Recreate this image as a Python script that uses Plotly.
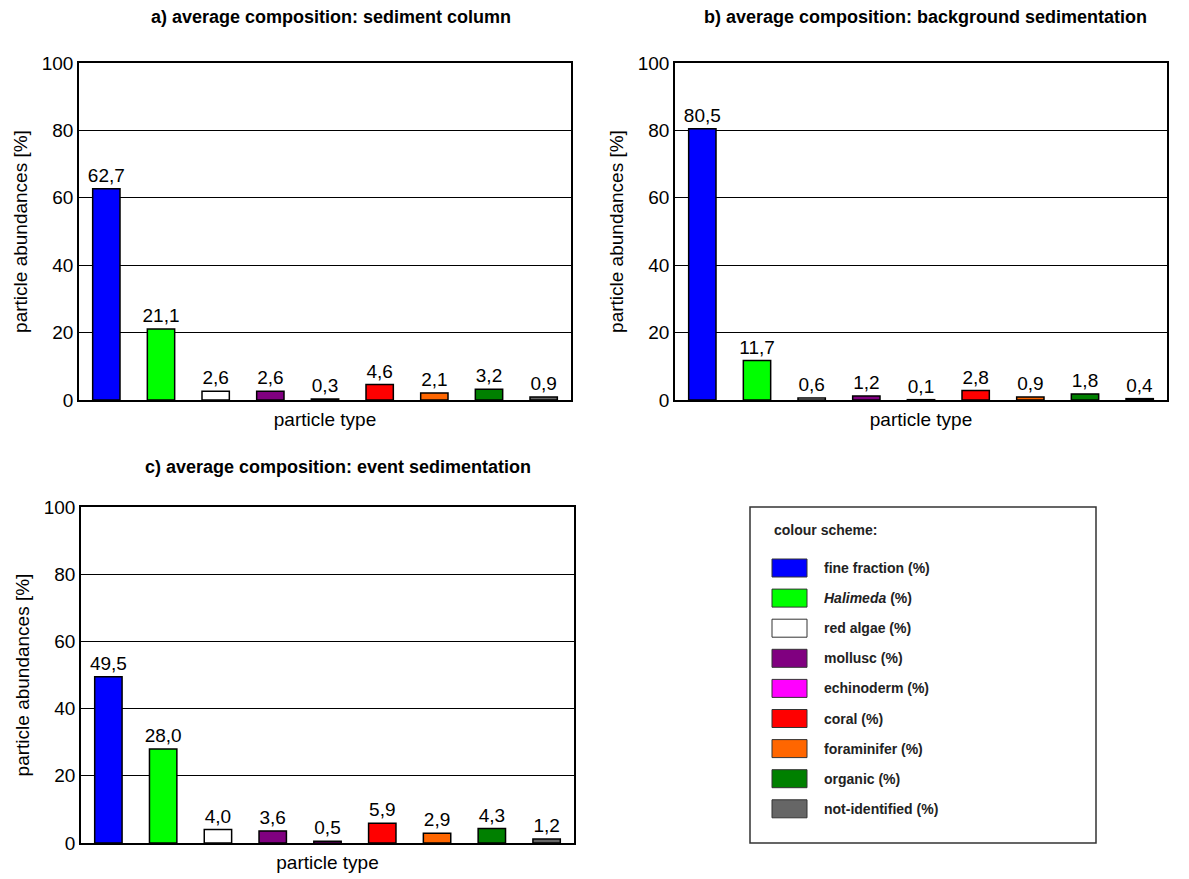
import plotly.graph_objects as go

W, H = 1189, 879

categories = ["fine fraction (%)", "Halimeda (%)", "red algae (%)", "mollusc (%)",
              "echinoderm (%)", "coral (%)", "foraminifer (%)", "organic (%)",
              "not-identified (%)"]
legend_labels = ["fine fraction (%)", "<i>Halimeda</i> (%)", "red algae (%)", "mollusc (%)",
                 "echinoderm (%)", "coral (%)", "foraminifer (%)", "organic (%)",
                 "not-identified (%)"]
colors = ["#0000FF", "#00FF00", "#FFFFFF", "#800080", "#FF00FF",
          "#FF0000", "#FF6600", "#008000", "#666666"]

sediment_column = [62.7, 21.1, 2.6, 2.6, 0.3, 4.6, 2.1, 3.2, 0.9]
background_sedimentation = [80.5, 11.7, 0.6, 1.2, 0.1, 2.8, 0.9, 1.8, 0.4]
event_sedimentation = [49.5, 28.0, 4.0, 3.6, 0.5, 5.9, 2.9, 4.3, 1.2]

panel_titles = ["a) average composition: sediment column",
                "b) average composition: background sedimentation",
                "c) average composition: event sedimentation"]
y_ticks = [0, 20, 40, 60, 80, 100]

FONT = "Liberation Sans, Arial, sans-serif"


def px_x(p):
    return p / W


def px_y(p):
    return 1 - p / H


# panel boxes in pixels: (left, right, top, bottom)
boxes = [(79, 571, 63, 400), (675, 1167, 63, 400), (81, 574, 507, 843)]
title_pos = [(331, 17), (925, 17), (338, 467)]
series = [sediment_column, background_sedimentation, event_sedimentation]

fig = go.Figure()

for i, (vals, box) in enumerate(zip(series, boxes)):
    n = "" if i == 0 else str(i + 1)
    fig.add_trace(go.Bar(
        x=categories, y=vals,
        marker=dict(color=colors, line=dict(color="black", width=1.5)),
        text=[f"{v:.1f}".replace(".", ",") for v in vals],
        textposition="outside",
        constraintext="none",
        textfont=dict(family=FONT, size=19, color="black"),
        cliponaxis=False,
        width=0.5,
        showlegend=False,
        xaxis="x" + n, yaxis="y" + n,
    ))
    l, r, t, b = box
    fig.update_layout(**{
        "xaxis" + n: dict(
            domain=[px_x(l), px_x(r)], anchor="y" + n,
            showticklabels=False, ticks="", showgrid=False,
            showline=True, linecolor="black", linewidth=1.5, mirror=True,
            range=[-0.5, len(categories) - 0.5],
            title=dict(text="particle type", standoff=12,
                       font=dict(family=FONT, size=19, color="black")),
            automargin=False,
            fixedrange=True,
        ),
        "yaxis" + n: dict(
            domain=[px_y(b), px_y(t)], anchor="x" + n,
            range=[0, 100], tickvals=y_ticks,
            tickfont=dict(family=FONT, size=19, color="black"),
            showgrid=True, gridcolor="black", gridwidth=1,
            zeroline=False,
            showline=True, linecolor="black", linewidth=1.5, mirror=True,
            ticks="",
            title=dict(text="particle abundances [%]", standoff=9,
                       font=dict(family=FONT, size=19, color="black")),
            automargin=False,
            fixedrange=True,
        ),
    })
    tx, ty = title_pos[i]
    fig.add_annotation(
        x=px_x(tx), y=px_y(ty), xref="paper", yref="paper",
        text="<b>" + panel_titles[i] + "</b>", showarrow=False,
        xanchor="center", yanchor="middle",
        font=dict(family=FONT, size=18, color="black"),
    )

# legend box ("colour scheme")
lx0, lx1, ly0, ly1 = 750, 1096, 507, 843
fig.add_shape(type="rect", xref="paper", yref="paper",
              x0=px_x(lx0), x1=px_x(lx1), y0=px_y(ly1), y1=px_y(ly0),
              line=dict(color="#333333", width=1.5), fillcolor="white", layer="below")
fig.add_annotation(x=px_x(772), y=px_y(530), xref="paper", yref="paper",
                   text="<b>colour scheme:</b>", showarrow=False,
                   xanchor="left", yanchor="middle",
                   font=dict(family=FONT, size=14, color="#222222"))
for k, (lab, col) in enumerate(zip(legend_labels, colors)):
    cy = 568 + k * 30.1
    fig.add_shape(type="rect", xref="paper", yref="paper",
                  x0=px_x(772), x1=px_x(807), y0=px_y(cy + 9), y1=px_y(cy - 9),
                  line=dict(color="#333333", width=1), fillcolor=col)
    fig.add_annotation(x=px_x(822), y=px_y(cy), xref="paper", yref="paper",
                       text="<b>" + lab + "</b>", showarrow=False,
                       xanchor="left", yanchor="middle",
                       font=dict(family=FONT, size=14, color="#222222"))

fig.update_layout(
    width=W, height=H,
    margin=dict(l=0, r=0, t=0, b=0),
    paper_bgcolor="white", plot_bgcolor="white",
    bargap=0.5,
    font=dict(family=FONT, color="black"),
)

fig.write_html("out.html", config={"displayModeBar": False})
